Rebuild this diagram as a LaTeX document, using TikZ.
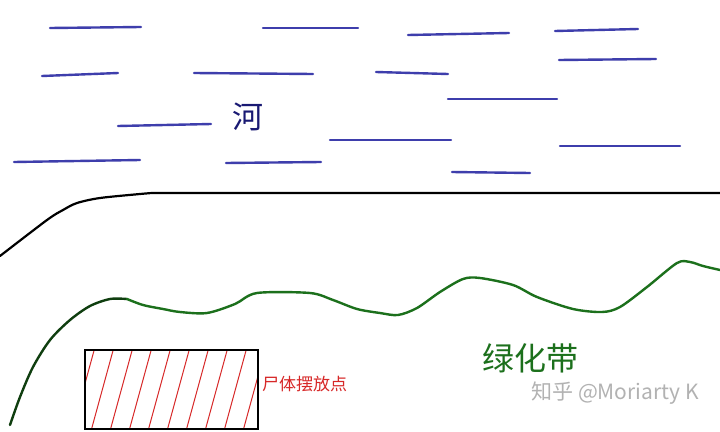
\documentclass[tikz,border=0pt]{standalone}
\usepackage{fontspec}
\newfontfamily\cjk{Noto Sans CJK SC}
\definecolor{riverblue}{RGB}{62,62,172}
\definecolor{rivertext}{RGB}{25,25,115}
\definecolor{mygreen}{RGB}{28,112,28}
\definecolor{myred}{RGB}{215,40,40}
\colorlet{darkgreen}{mygreen!55!black}

\begin{document}
\begin{tikzpicture}[x=1pt,y=-1pt]
\useasboundingbox[fill=white] (0,0) rectangle (720,431);
\tikzset{WaveStyle/.style ={line width=2.4pt, color=riverblue, line cap=round}}
\foreach \xa/\ya/\xb/\yb in {50/28/141/27, 263/28/358/28, 42/76/118/73, 194/73/313/74,
  118/126/211/124, 14/162/140/160, 226/163/321/162, 408/35/509/33, 555/31/638/29,
  376/72/448/74, 559/60/656/59, 448/99/557/99, 330/140/451/140, 560/146/680/146,
  452/172/530/173}
  \draw[WaveStyle] (\xa,\ya) -- (\xb,\yb);
\node[text=rivertext, font=\cjk\fontsize{31}{31}\selectfont] (river) at (248,117) {河};
% bank
\tikzset{ShoreStyle/.style ={line width=2.2pt, color=black, line cap=round}}
\draw[ShoreStyle] plot[smooth, tension=0.5] coordinates {(0,256) (47,220) (63,210) (77,203) (100,198) (140,194) (152,193)} -- (720,193);
% green belt
\tikzset{GreenStyle/.style ={line width=2.4pt, color=mygreen, line cap=round}}
\draw[GreenStyle, color=darkgreen] plot[smooth, tension=0.5] coordinates {(10,425) (20,397) (33,367)
  (50,340) (70,320) (90,306) (110,299) (127,299)};
\draw[GreenStyle] plot[smooth, tension=0.5] coordinates {(127,299) (143,305) (163,309) (180,312) (207,313)
  (235,304) (257,293) (310,293) (333,300) (357,309) (380,313) (398,315) (417,308) (440,292)
  (463,279) (480,278) (513,285) (537,297) (573,309) (602,312) (620,307) (647,287) (677,263)
  (690,262) (703,266) (720,270)};
\node[text=mygreen, font=\cjk\fontsize{32}{32}\selectfont] (belt) at (530,358) {绿化带};
% body spot
\tikzset{HatchStyle/.style ={line width=1pt, color=myred}}
\begin{scope}
\clip (85,350) rectangle (258,429);
\foreach \x in {72,91,...,270}
  \draw[HatchStyle] (\x,431) -- ++(23,-84);
\end{scope}
\node[draw=black, line width=1.6pt, minimum width=173pt, minimum height=79pt, inner sep=0pt] (spot) at (171.5,389.5) {};
\node[text=myred, font=\cjk\fontsize{17}{17}\selectfont, anchor=west, inner sep=0pt] (label) at (262,384) {尸体摆放点};
\node[text=black!30, font=\cjk\fontsize{21}{21}\selectfont] (mark) at (615,393) {知乎 @Moriarty K};
\end{tikzpicture}
\end{document}
